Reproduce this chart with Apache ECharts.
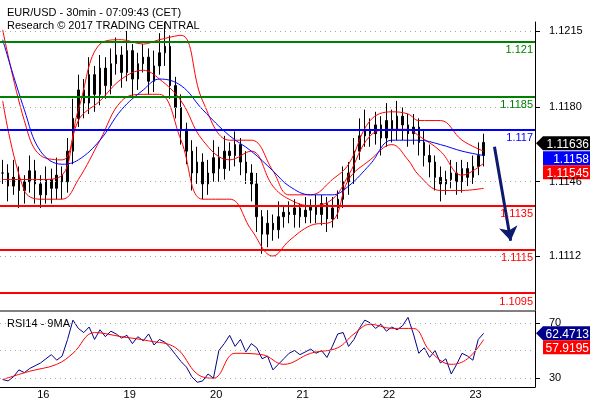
<!DOCTYPE html>
<html>
<head>
<meta charset="utf-8">
<script src="https://cdn.jsdelivr.net/npm/echarts@6/dist/echarts.min.js"></script>
<style>
  html, body { margin: 0; padding: 0; background: #fff; }
  #chart { width: 590px; height: 400px; }
</style>
</head>
<body>
<div id="chart"></div>
<script>
// 30분봉 종가 (인덱스 0..89)
var closes = [1.1150,1.1144,1.1148,1.1142,1.1146,1.1151,1.1145,1.1140,1.1147,1.1143,1.1149,
  1.1146,1.1160,1.1175,
  1.1188,1.1182,1.1195,1.1186,1.1198,1.1190,1.1200,
  1.1204,1.1196,1.1206,1.1193,1.1200,1.1203,1.1192,1.1199,1.1205,1.1208,
  1.1190,1.1180,1.1170,1.1160,1.1150,1.1155,
  1.1145,1.1150,1.1157,1.1152,1.1160,1.1158,
  1.1163,1.1155,1.1150,1.1145,
  1.1130,1.1122,1.1127,1.1124,1.1130,
  1.1132,1.1131,1.1134,1.1130,1.1133,1.1135,1.1131,1.1136,1.1129,1.1134,
  1.1138,1.1146,1.1150,1.1160,1.1167,1.1170,
  1.1168,1.1172,1.1166,1.1174,1.1170,1.1176,1.1172,1.1168,1.1171,
  1.1164,1.1158,1.1155,1.1148,1.1145,1.1147,
  1.1150,1.1146,1.1152,1.1148,1.1153,1.1158,1.1164];
// 꼬리 길이 (pip)
var wickHi = [6,4,8,5,3,7,5,4,6,5,8, 4,6,9, 7,5,8,4,6,5,7, 8,4,9,3,5,6,4,7,9,11, 5,4,6,3,5,7, 4,6,8,5,7,4, 6,3,5,4, 5,3,6,4,7, 3,5,4,2,6,3,5,4,3,5, 4,7,5,6,8,9, 5,6,4,8,5,7,4,5,6, 4,6,5,3,5,4, 6,5,4,3,5,6,4];
var wickLo = [5,7,4,8,6,5,9,6,4,7,5, 8,5,6, 4,7,5,8,5,6,4, 5,7,4,8,5,4,6,5,4,6, 6,5,7,6,8,5, 7,5,4,6,5,7, 5,6,5,8, 7,9,6,5,4, 5,4,6,5,3,6,4,5,6,4, 5,4,6,5,4,5, 6,5,8,4,6,5,7,6,5, 6,5,7,6,8,5, 4,6,5,4,3,4,5];

// 밴드/이동평균 샘플 위치
var bandIdx = [0,4,7,11,14,18,22,26,29,33,37,42,46,50,53,57,61,64,68,72,75,77,81,85,89];
var bbUpper = [1.12155,1.1174,1.1158,1.1156,1.1179,1.1209,1.1211,1.1209,1.1211,1.1213,1.1183,1.1165,1.1165,1.1151,1.1140,1.1140,1.1147,1.1154,1.1174,1.1178,1.1177,1.1174,1.1174,1.1165,1.1160];
var bbMid = [1.1147,1.1147,1.1147,1.1149,1.1174,1.1183,1.1193,1.1197,1.1193,1.1183,1.1165,1.1156,1.1160,1.1144,1.1138,1.1135,1.1138,1.1149,1.1167,1.1170,1.1170,1.1167,1.1160,1.1149,1.11545];
var bbLower = [1.1183,1.1142,1.1138,1.1138,1.1147,1.1165,1.1183,1.1186,1.1186,1.1165,1.1138,1.1138,1.1124,1.1112,1.1119,1.1126,1.1128,1.1147,1.1156,1.1163,1.1156,1.1149,1.1142,1.1142,1.1143];
var maBlue = [1.1211,1.1179,1.1160,1.1154,1.1156,1.1165,1.1179,1.1188,1.1193,1.1190,1.1179,1.1167,1.1160,1.1151,1.1144,1.1140,1.1140,1.1144,1.1154,1.1165,1.1165,1.1165,1.1163,1.1160,1.1158];

// RSI
var rsi = [29,28,31,36,34,37, 39,41,44,47,43,46, 58,72,66, 63,67,58,65,60,64,
  62,59,61,55,60,57,62,54,58,56, 52,47,42,38,31,27, 28,33,30,50,55,61,
  53,58,49,55,52,44,46, 36,40,44, 48,50,47,49,51,48,50,45,53,62,
  63,53,58,66,72, 70,66,69,64,67,65,68,74,62, 48,52,45,50,41,44,
  33,40,48,46,43,58,62.4713];
var rsiMaIdx = [0,5,10,13,17,22,27,32,36,39,43,48,52,57,62,65,68,72,76,79,83,86,89];
var rsiMa = [29,35,40,48,63,60,57,52,33,30,48,47,40,48,52,62,69,66,66,50,40,44,57.9195];

// 지지/저항 레벨
var levels = [
  { v: 1.121, c: '#008000' }, { v: 1.1185, c: '#008000' }, { v: 1.117, c: '#0000ff' },
  { v: 1.1135, c: '#ff0000' }, { v: 1.1115, c: '#ff0000' }, { v: 1.1095, c: '#ff0000' }
];
var priceTicks = [1.1112, 1.1146, 1.118, 1.1215];
var dayIdx = [6, 22, 38, 54, 70, 86];
var dayLabels = ['16', '19', '20', '21', '22', '23'];
var arrowFrom = [91, 1.1162], arrowTo = [93.5, 1.1119];

var nCat = 99;
var cats = [];
for (var i = 0; i < nCat; i++) {
  var k = dayIdx.indexOf(i);
  cats.push(k >= 0 ? dayLabels[k] : '');
}
var ohlc = closes.map(function(c, i) {
  var o = i === 0 ? c : closes[i - 1];
  return [o, c, Math.min(o, c) - wickLo[i] * 0.0001, Math.max(o, c) + wickHi[i] * 0.0001];
});
function pairs(idx, vals) { return idx.map(function(x, j) { return [x, vals[j]]; }); }

var font = 'Liberation Sans, Arial, sans-serif';
var dotted = { color: '#aaa', type: [1, 4], width: 1 };

var chart = echarts.init(document.getElementById('chart'));
chart.setOption({
  animation: false,
  textStyle: { fontFamily: font },
  title: [
    { text: 'EUR/USD - 30min - 07:09:43 (CET)\nResearch © 2017 TRADING CENTRAL', left: 2, top: 1,
      textStyle: { fontSize: 11, fontWeight: 'normal', color: '#000', lineHeight: 13, fontFamily: font } },
    { text: 'RSI14 - 9MA', left: 2, top: 313,
      textStyle: { fontSize: 11, fontWeight: 'normal', color: '#000', fontFamily: font } }
  ],
  grid: [
    { left: 0, right: 55, top: 22, height: 288 },
    { left: 0, right: 55, top: 311, height: 77 }
  ],
  xAxis: [
    { type: 'category', gridIndex: 0, data: cats, show: false },
    { type: 'category', gridIndex: 1, data: cats,
      axisLine: { lineStyle: { color: '#000' } },
      axisTick: { alignWithLabel: true, interval: function(i) { return dayIdx.indexOf(i) >= 0; }, length: 5, lineStyle: { color: '#000' } },
      axisLabel: { interval: function(i) { return dayIdx.indexOf(i) >= 0; }, align: 'left', padding: [0, 0, 0, 2], margin: 2, color: '#000', fontSize: 11 } }
  ],
  yAxis: [
    { type: 'value', gridIndex: 0, position: 'right', min: 1.10873, max: 1.12191,
      axisLine: { show: true, lineStyle: { color: '#000' } },
      axisTick: { show: true, customValues: priceTicks, lineStyle: { color: '#000' } },
      axisLabel: { customValues: priceTicks, formatter: function(v) { return v.toFixed(4); }, color: '#000', fontSize: 11, margin: 14 },
      splitLine: { show: false } },
    { type: 'value', gridIndex: 1, position: 'right', min: 23.6, max: 78.6,
      axisLine: { show: true, lineStyle: { color: '#000' } },
      axisTick: { show: true, customValues: [30, 70], lineStyle: { color: '#000' } },
      axisLabel: { customValues: [30, 70], color: '#000', fontSize: 11, margin: 14 },
      splitLine: { show: false } }
  ],
  series: [
    { type: 'line', xAxisIndex: 0, yAxisIndex: 0, data: [], silent: true,
      markLine: { symbol: 'none', silent: true, precision: 5, label: { show: false }, lineStyle: dotted,
        data: priceTicks.map(function(v) { return { yAxis: v }; }) } },
    { type: 'line', xAxisIndex: 1, yAxisIndex: 1, data: [], silent: true,
      markLine: { symbol: 'none', silent: true, label: { show: false }, lineStyle: dotted,
        data: [{ yAxis: 30 }, { yAxis: 50 }, { yAxis: 70 }] } },
    { type: 'line', xAxisIndex: 0, yAxisIndex: 0, data: [], silent: true,
      markLine: { symbol: 'none', silent: true, precision: 5,
        data: levels.map(function(l) {
          return { yAxis: l.v, lineStyle: { color: l.c, width: 2, type: 'solid' },
            label: { show: true, position: 'insideEndBottom', formatter: String(l.v), color: l.c, fontSize: 11, distance: [2, 3] } };
        }) } },
    { type: 'line', xAxisIndex: 0, yAxisIndex: 0, data: pairs(bandIdx, bbUpper), smooth: 0.4, symbol: 'none', lineStyle: { color: '#ff0000', width: 1 } },
    { type: 'line', xAxisIndex: 0, yAxisIndex: 0, data: pairs(bandIdx, bbMid), smooth: 0.4, symbol: 'none', lineStyle: { color: '#ff0000', width: 1 } },
    { type: 'line', xAxisIndex: 0, yAxisIndex: 0, data: pairs(bandIdx, bbLower), smooth: 0.4, symbol: 'none', lineStyle: { color: '#ff0000', width: 1 } },
    { type: 'line', xAxisIndex: 0, yAxisIndex: 0, data: pairs(bandIdx, maBlue), smooth: 0.4, symbol: 'none', lineStyle: { color: '#0000ff', width: 1 } },
    { type: 'candlestick', xAxisIndex: 0, yAxisIndex: 0, data: ohlc, barMaxWidth: 2,
      itemStyle: { color: '#000', color0: '#000', borderColor: '#000', borderColor0: '#000', borderWidth: 1 } },
    { type: 'line', xAxisIndex: 0, yAxisIndex: 0, data: [], silent: true,
      markLine: { silent: true, precision: 5, symbol: ['none', 'arrow'], symbolSize: 14, label: { show: false },
        lineStyle: { color: '#0d1a6e', width: 3, type: 'solid' },
        data: [[{ coord: arrowFrom }, { coord: arrowTo }]] } },
    { type: 'line', xAxisIndex: 1, yAxisIndex: 1, data: rsi, symbol: 'none', lineStyle: { color: '#00008b', width: 1 } },
    { type: 'line', xAxisIndex: 1, yAxisIndex: 1, data: pairs(rsiMaIdx, rsiMa), smooth: 0.4, symbol: 'none', lineStyle: { color: '#ff0000', width: 1 } }
  ]
});

// 오른쪽 값 태그 (겹치지 않게 아래로 쌓음)
function tag(y, text, bg, arrow) {
  var x0 = 543;
  var els = [
    { type: 'rect', shape: { x: x0, y: y - 7, width: 590 - x0, height: 14 }, style: { fill: bg } },
    { type: 'text', style: { x: 589, y: y + 1, text: text, fill: '#fff', font: '12px ' + font, align: 'right', verticalAlign: 'middle' } }
  ];
  if (arrow) els.push({ type: 'polygon', shape: { points: [[536, y], [x0, y - 7], [x0, y + 7]] }, style: { fill: bg } });
  return els;
}
var yTop = chart.convertToPixel({ yAxisIndex: 0 }, 1.11636);
var yRsi = chart.convertToPixel({ yAxisIndex: 1 }, 62.4713);
var g = [].concat(
  tag(yTop, '1.11636', '#000', true),
  tag(yTop + 15, '1.1158', '#0000ff', false),
  tag(yTop + 29, '1.11545', '#ff0000', false),
  tag(yRsi, '62.4713', '#00008b', true),
  tag(yRsi + 14, '57.9195', '#ff0000', false),
  [{ type: 'line', shape: { x1: 0, y1: 311, x2: 535, y2: 311 }, style: { stroke: '#000', lineWidth: 1 } }]
);
chart.setOption({ graphic: g });
</script>
</body>
</html>
